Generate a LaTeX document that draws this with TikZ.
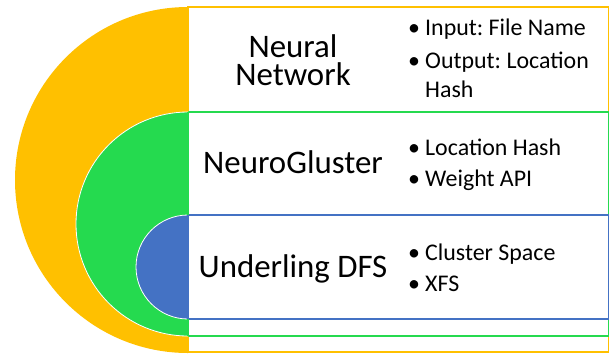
\documentclass[tikz,border=0pt]{standalone}
\usepackage{fontspec}
\setmainfont{Carlito}
\frenchspacing
\definecolor{cyel}{HTML}{FFC000}
\definecolor{cgrn}{HTML}{25DA4F}
\definecolor{cblu}{HTML}{4472C4}
\begin{document}
\begin{tikzpicture}[x=1bp,y=-1bp,
  layerbox/.style={fill=white,line width=1.1bp},
  halfdisc/.style={draw=white,line width=0.8bp},
  title/.style={anchor=base,inner sep=0pt,align=center,font=\fontsize{33}{28}\selectfont},
  item/.style={anchor=base west,inner sep=0pt,font=\fontsize{24}{24}\selectfont},
  dot/.style={anchor=base west,inner sep=0pt,font=\fontsize{24}{24}\selectfont}]
\useasboundingbox (0,0) rectangle (611,353);
% boxes
\draw[layerbox,draw=cyel] (188,7) rectangle (608.5,352);
\draw[layerbox,draw=cgrn] (188,112) rectangle (608.5,336);
\draw[layerbox,draw=cblu] (188,215) rectangle (608.5,319);
% half discs
\fill[cyel] (188,7) arc[start angle=270,end angle=90,radius=173] -- cycle;
\filldraw[halfdisc,fill=cgrn] (188,112) arc[start angle=270,end angle=90,radius=112] -- cycle;
\filldraw[halfdisc,fill=cblu] (188,215) arc[start angle=270,end angle=90,radius=52] -- cycle;
\draw[cgrn,line width=1.1bp] (188,112) -- (188,336);
\draw[cblu,line width=1.1bp] (188,215) -- (188,319);
% titles
\node[title] (t1) at (293,85) {Neural\\Network};
\node[title] (t2) at (293,173) {NeuroGluster};
\node[title] (t3) at (293,277) {Underling DFS};
% bullets
\node[dot] (b1) at (408,35) {•};
\node[item] (i1) at (425,35) {Input: File Name};
\node[dot] (b2) at (408,68) {•};
\node[item] (i2) at (425,68) {Output: Location};
\node[item] (i2b) at (425,97) {Hash};
\node[dot] (b3) at (408,155) {•};
\node[item] (i3) at (425,155) {Location Hash};
\node[dot] (b4) at (408,186) {•};
\node[item] (i4) at (425,186) {Weight API};
\node[dot] (b5) at (408,260) {•};
\node[item] (i5) at (425,260) {Cluster Space};
\node[dot] (b6) at (408,291) {•};
\node[item] (i6) at (425,291) {XFS};
\end{tikzpicture}
\end{document}
